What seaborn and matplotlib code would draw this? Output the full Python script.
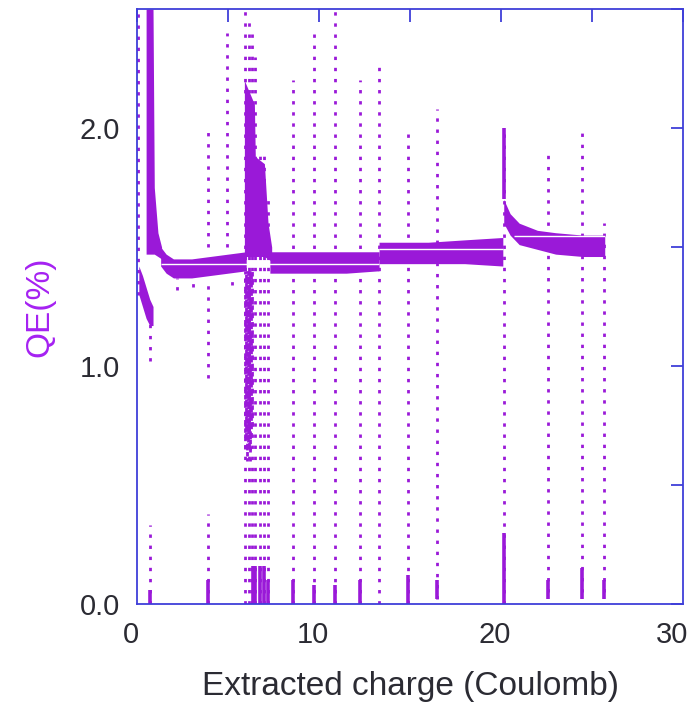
import numpy as np
import pandas as pd
import matplotlib
matplotlib.use("Agg")
import matplotlib.pyplot as plt
import matplotlib.transforms as mtransforms
import seaborn as sns

# ---------------- data ----------------
# dense bands (min / max QE of the point cloud) per run segment
band_seg = ["s0", "s0", "s0", "s0", "s0",
            "p1", "p1", "p1", "p1", "p1",
            "c", "c", "c", "c", "c", "c", "c",
            "p2", "p2", "p2", "p2", "p2", "p2",
            "e", "e", "e", "e",
            "f", "f", "f", "f",
            "g", "g", "g", "g", "g", "g", "g"]
band_x = [0.10, 0.30, 0.50, 0.70, 0.88,
          0.50, 0.88, 0.95, 1.15, 1.35,
          1.30, 1.60, 2.00, 3.00, 4.00, 5.00, 6.00,
          5.90, 6.45, 6.50, 7.00, 7.20, 7.40,
          7.30, 9.00, 11.50, 13.30,
          13.30, 16.00, 18.00, 20.10,
          20.15, 20.50, 21.00, 22.00, 23.00, 24.50, 25.70]
band_lo = [1.30, 1.25, 1.20, 1.17, 1.17,
           1.47, 1.47, 1.47, 1.46, 1.45,
           1.42, 1.39, 1.37, 1.37, 1.38, 1.39, 1.40,
           1.46, 1.46, 1.46, 1.46, 1.45, 1.44,
           1.39, 1.39, 1.39, 1.40,
           1.43, 1.43, 1.43, 1.42,
           1.60, 1.55, 1.51, 1.49, 1.47, 1.46, 1.46]
band_hi = [1.42, 1.38, 1.33, 1.28, 1.25,
           2.50, 2.50, 1.75, 1.56, 1.50,
           1.50, 1.47, 1.45, 1.45, 1.46, 1.47, 1.48,
           2.20, 2.10, 1.88, 1.85, 1.60, 1.50,
           1.48, 1.48, 1.48, 1.48,
           1.52, 1.52, 1.53, 1.54,
           1.70, 1.64, 1.60, 1.57, 1.56, 1.55, 1.55]

# sparse (dotted) columns of scattered points
spike_x  = [0.05, 0.70, 0.70, 3.90, 3.90, 3.90, 4.95,
            5.93, 6.03, 6.13, 6.23, 6.33, 6.50, 6.75, 7.00, 7.20,
            8.57, 9.75, 10.88, 12.25, 13.30, 14.90, 16.50,
            20.15, 22.60, 24.45, 25.65,
            2.2, 3.1, 5.2]
spike_lo = [1.30, 1.02, 0.00, 1.50, 0.95, 0.00, 1.50,
            0.00, 0.60, 0.00, 0.60, 0.00, 0.00, 0.00, 0.00, 0.00,
            0.00, 0.00, 0.00, 0.00, 0.00, 0.00, 0.02,
            0.00, 0.05, 0.05, 0.05,
            1.32, 1.33, 1.34]
spike_hi = [2.50, 1.20, 0.33, 2.00, 1.35, 0.38, 2.40,
            2.50, 1.40, 2.45, 1.40, 2.40, 2.30, 1.90, 1.90, 1.70,
            2.20, 2.40, 2.50, 2.20, 2.27, 2.00, 2.08,
            2.00, 1.90, 1.98, 1.60,
            1.37, 1.37, 1.38]

# dense (solid) column pieces
dense_x  = [0.70, 3.90, 6.35, 6.50, 6.75, 7.00, 7.20,
            8.57, 9.75, 10.88, 12.25, 14.90, 16.50,
            20.15, 20.15, 22.60, 24.45, 25.65]
dense_lo = [0.00, 0.00, 0.00, 0.00, 0.00, 0.00, 0.00,
            0.00, 0.00, 0.00, 0.00, 0.00, 0.02,
            0.00, 1.70, 0.02, 0.02, 0.02]
dense_hi = [0.06, 0.10, 0.16, 0.16, 0.16, 0.16, 0.10,
            0.10, 0.08, 0.08, 0.10, 0.12, 0.10,
            0.30, 2.00, 0.10, 0.15, 0.10]

# tight dotted block under the second peak
block_x  = [5.93, 5.98, 6.03, 6.08, 6.13, 6.18, 6.23, 6.28, 6.33]
block_lo = [0.65, 0.70, 0.62, 0.68, 0.66, 0.72, 0.64, 0.70, 0.75]
block_hi = [1.40, 1.40, 1.40, 1.40, 1.40, 1.40, 1.40, 1.40, 1.40]

# white gaps (value quantisation) across the bands
gap_y  = [1.43, 1.49, 1.545]
gap_x0 = [1.30, 13.30, 20.70]
gap_x1 = [13.30, 20.10, 25.70]

x_ticks = [0, 5, 10, 15, 20, 25, 30]
x_ticklabels = ["0", "", "10", "", "20", "", "30"]
y_ticks = [0.0, 0.5, 1.0, 1.5, 2.0, 2.5]
y_ticklabels = ["0.0", "", "1.0", "", "2.0", ""]

# ---------------- style ----------------
sns.set_theme(style="white")
plt.rcParams["font.family"] = ["Liberation Sans", "DejaVu Sans"]

PT = "#9a19d8"
SPINE = "#3f3fd9"

fig = plt.figure(figsize=(6.97, 7.02), dpi=100)
ax = fig.add_axes([137 / 697, 1 - 604 / 702, 546 / 697, 595 / 702])

df = pd.DataFrame({
    "seg": band_seg * 2,
    "x": band_x * 2,
    "y": band_lo + band_hi,
})
segs = list(dict.fromkeys(band_seg))
sns.lineplot(data=df, x="x", y="y", hue="seg", hue_order=segs,
             palette={s: PT for s in segs}, estimator="mean",
             errorbar=("pi", 100), err_kws=dict(alpha=1, linewidth=0),
             linewidth=0, legend=False, ax=ax)

ax.vlines(spike_x, spike_lo, spike_hi, colors=PT, linewidth=2.0,
          linestyles=(0, (1.2, 2.8)))
ax.vlines(block_x, block_lo, block_hi, colors=PT, linewidth=2.0,
          linestyles=(0, (1.6, 1.4)))
ax.vlines(dense_x, dense_lo, dense_hi, colors=PT, linewidth=2.6)
ax.hlines(gap_y, gap_x0, gap_x1, colors="white", linewidth=1.0)

ax.set_xlim(0, 30)
ax.set_ylim(0, 2.5)
ax.set_xticks(x_ticks)
ax.set_xticklabels(x_ticklabels)
ax.set_yticks(y_ticks)
ax.set_yticklabels(y_ticklabels)
ax.tick_params(direction="in", length=9, width=1.3, color=SPINE,
               top=True, right=True, labelsize=21, labelcolor="#2b2b33",
               pad=12)
for sp in ax.spines.values():
    sp.set_color(SPINE)
    sp.set_linewidth(1.3)

# reference tick labels sit slightly left of their ticks
xlabs = ax.get_xticklabels()
for i, lab in enumerate(xlabs):
    dx = -11 if i == len(xlabs) - 1 else -6
    lab.set_transform(lab.get_transform() +
                      mtransforms.ScaledTranslation(dx / 100, 0, fig.dpi_scale_trans))

ax.set_xlabel("Extracted charge (Coulomb)", fontsize=24, color="#2b2b33")
ax.set_ylabel("QE(%)", fontsize=24, color="#a521f2")
ax.xaxis.set_label_coords(0.5, -0.112)
ax.yaxis.set_label_coords(-0.15, 0.5)

fig.savefig("out.png", dpi=100)
